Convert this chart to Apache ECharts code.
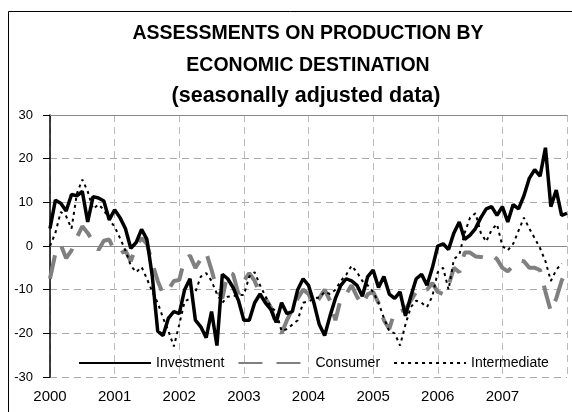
<!DOCTYPE html>
<html>
<head>
<meta charset="utf-8">
<script src="https://cdn.jsdelivr.net/npm/echarts@6/dist/echarts.min.js"></script>
<style>
  html, body { margin: 0; padding: 0; background: #fff; }
  #chart { width: 572px; height: 412px; }
</style>
</head>
<body>
<div id="chart"></div>
<script>
// monthly categories 2000-01 .. 2008-01
var years = ['2000', '2001', '2002', '2003', '2004', '2005', '2006', '2007', '2008'];
var months = [];
years.forEach(function (y, k) {
    var n = k === years.length - 1 ? 1 : 12;
    for (var m = 1; m <= n; m++) {
        months.push(y + '-' + (m < 10 ? '0' + m : m));
    }
});

var seriesNames = ['Investment', 'Consumer', 'Intermediate'];

var investment = [
    4, 10.5, 9.8, 8, 11.8, 11.5, 12.5, 5.5, 11.3, 11, 10.3, 6,
    8.3, 6.5, 4, -0.5, 0.8, 3.8, 1.5, -7, -19.5, -20.5, -16.5, -15,
    -15.5, -10, -7.5, -17, -18.5, -21, -15, -22.8, -6.5, -7.5, -9.5, -12.5,
    -17, -17, -13, -11, -13, -14.5, -17.5, -13, -15.5, -15, -10, -7.5,
    -9, -13, -18, -20.5, -16, -12, -9, -7.5, -8, -9, -11.5, -7,
    -5.5, -9.5, -7, -11, -12, -10.5, -16, -11.5, -7.5, -6.5, -9, -5,
    0, 0.5, -0.8, 3, 5.5, 1.5, 2.5, 4, 6.5, 8.5, 9, 7,
    9, 5.5, 9.5, 8.5, 11.5, 15.5, 17.5, 16, 22.5, 9, 12.8, 7,
    7.5
];

var consumer = [
    -7.5, -1.7, 0.3, -2.8, -1, 2, 4.5, 3, 1, -0.9, 1.2, 1.5,
    -1.3, -1.8, -1, -3.5, 0, 1.8, 0.5, -4, -8, -11, -10, -8,
    -7.8, -3, -2.2, -5, -3, -1.5, -5.5, -10, -12, -6, -6.5, -11,
    -8, -6.2, -8, -11, -12, -14, -18, -20, -17, -14.5, -12, -10,
    -11, -13.5, -12, -10, -12.5, -17, -12, -11, -9, -11.6, -13.5, -11,
    -10.5, -13, -17, -19, -15, -15, -14.5, -12.5, -10.5, -9.5, -10, -8.5,
    -10.5, -11, -9, -5, -6, -1.5, -1.5, -2.4, -2.5, -2.8, -2, -3,
    -5, -5.8, -4.5, -3.3, -3.5, -5, -5, -5.5, -10.5, -15, -12, -8,
    -5
];

var intermediate = [
    0, 3, 7.8, 6.8, 4, 12, 15.2, 12.5, 8.5, 9.5, 8.3, 6,
    4.4, 1.8, -1, -4.5, -6, -4.8, -7.5, -10.5, -13, -16.5, -19.5, -23,
    -18, -12.7, -12, -10.5, -7, -6.2, -8, -11, -13, -11.6, -11.5, -11.2,
    -11.2, -7, -6, -9, -11.5, -14, -15, -19.5, -19, -18, -17, -13,
    -12.7, -12, -11.8, -10.5, -11, -10, -8, -6.6, -4.5, -6, -8, -9,
    -10.5, -13, -16.5, -19.5, -20, -22.8, -18, -14, -12.5, -13, -14, -11.5,
    -6, -5, -10, -3, -2, 3, 6.5, 7.5, 3, 1, 3.7, 5,
    0, -1, 0.5, 3.5, 6.5, 4, 1.8, -0.5, -3.5, -8, -5.5, -4,
    null
];

var titleLines = ['ASSESSMENTS ON PRODUCTION BY', 'ECONOMIC DESTINATION', '(seasonally adjusted data)'];

var font = 'Arial, "Liberation Sans", sans-serif';
var myChart = echarts.init(document.getElementById('chart'));

var yearTick = function (index) { return index % 12 === 0; };

var option = {
    animation: false,
    backgroundColor: '#fff',
    graphic: [
        {
            type: 'rect',
            shape: { x: 8.5, y: 11.5, width: 700, height: 500 },
            style: { fill: 'none', stroke: '#000', lineWidth: 1 },
            silent: true
        },
        {
            type: 'text',
            style: { text: titleLines[0], x: 308, y: 34, textAlign: 'center', textVerticalAlign: 'middle',
                     font: 'bold 19.5px ' + font, fill: '#000' }
        },
        {
            type: 'text',
            style: { text: titleLines[1], x: 308, y: 66, textAlign: 'center', textVerticalAlign: 'middle',
                     font: 'bold 19.5px ' + font, fill: '#000' }
        },
        {
            type: 'text',
            style: { text: titleLines[2], x: 306, y: 96, textAlign: 'center', textVerticalAlign: 'middle',
                     font: 'bold 21.5px ' + font, fill: '#000' }
        }
    ],
    legend: {
        data: seriesNames,
        left: 78,
        top: 356,
        padding: 0,
        itemWidth: 72,
        itemHeight: 14,
        itemGap: 13,
        // line sample only, no marker
        itemStyle: { color: 'rgba(0,0,0,0)', borderColor: 'rgba(0,0,0,0)', borderWidth: 0 },
        textStyle: { fontSize: 14, color: '#000', fontFamily: font }
    },
    grid: { left: 50, right: 5, top: 115, bottom: 35 },
    xAxis: [
        {
            type: 'category',
            data: months,
            boundaryGap: false,
            axisLine: { lineStyle: { color: '#888', width: 1 } },
            axisTick: { show: false },
            axisLabel: {
                interval: yearTick,
                margin: 12,
                fontSize: 15,
                color: '#000',
                fontFamily: font,
                formatter: function (value, index) {
                    return index === months.length - 1 ? '' : value.slice(0, 4);
                }
            },
            splitLine: {
                show: true,
                interval: yearTick,
                lineStyle: { color: '#bbb', type: [7, 5], width: 1 }
            }
        },
        {
            type: 'category',
            data: months,
            position: 'top',
            boundaryGap: false,
            axisLine: { lineStyle: { color: '#888', width: 1 } },
            axisTick: { show: false },
            axisLabel: { show: false },
            splitLine: { show: false }
        }
    ],
    yAxis: {
        type: 'value',
        min: -30,
        max: 30,
        interval: 10,
        axisLine: { show: true, lineStyle: { color: '#000', width: 1.5 } },
        axisTick: { show: true, length: 7, lineStyle: { color: '#000' } },
        axisLabel: { margin: 17, fontSize: 13, color: '#000', fontFamily: font },
        splitLine: { lineStyle: { color: '#aaa', type: [7, 5], width: 1 } }
    },
    series: [
        {
            name: seriesNames[0],
            type: 'line',
            data: investment,
            symbol: 'none',
            z: 4,
            color: '#000',
            lineStyle: { color: '#000', width: 3.5 }
        },
        {
            name: seriesNames[1],
            type: 'line',
            data: consumer,
            symbol: 'none',
            z: 2,
            color: '#808080',
            lineStyle: { color: '#808080', width: 4, type: [24, 14] }
        },
        {
            name: seriesNames[2],
            type: 'line',
            data: intermediate,
            symbol: 'none',
            z: 3,
            color: '#000',
            lineStyle: { color: '#000', width: 2, type: [3, 4] }
        }
    ]
};

myChart.setOption(option);
</script>
</body>
</html>
